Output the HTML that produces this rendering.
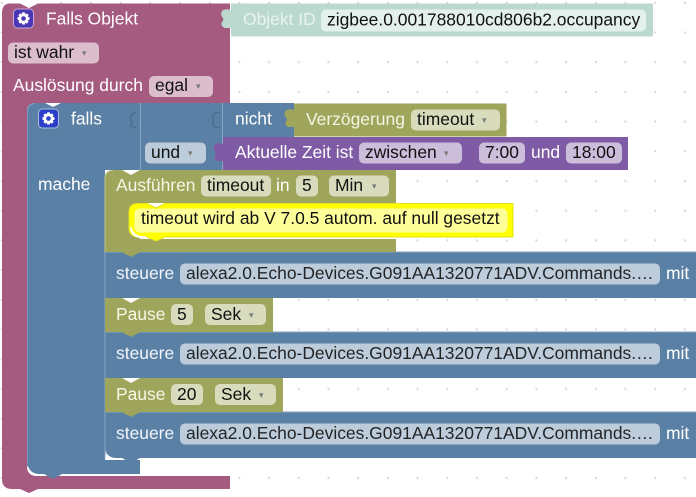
<!DOCTYPE html>
<html><head><meta charset="utf-8">
<style>
html,body{margin:0;padding:0;background:#fff;width:696px;height:497px;overflow:hidden}
svg{display:block}
text{font-family:"Liberation Sans",Arial,sans-serif;font-size:17.45px}
.w{fill:#fff}.k{fill:#111}text.a{font-size:9px;fill:#7a7a7a}
</style></head><body>
<svg width="696" height="497" viewBox="0 0 696 497" xmlns="http://www.w3.org/2000/svg">
<defs>
<pattern id="g" x="0.2" y="1.2" width="29.7" height="29.7" patternUnits="userSpaceOnUse"><rect x="0.5" y="0.5" width="2.2" height="2.2" rx="1" fill="#d6d6d6"/></pattern>
<g id="gear"><path d="M0-6.2 1.4-6 1.8-4.3 3.4-5.1 5.1-3.4 4.2-1.8 6-1.3V1.3L4.2 1.8 5.1 3.4 3.4 5.1 1.8 4.3 1.3 6H-1.3L-1.8 4.3-3.4 5.1-5.1 3.4-4.2 1.8-6 1.3V-1.3L-4.2-1.8-5.1-3.4-3.4-5.1-1.8-4.3-1.4-6Z" fill="#fff"/><circle r="2.3" fill="currentColor"/></g>
</defs>
<rect width="696" height="497" fill="#fff"/>
<rect width="696" height="497" fill="url(#g)"/>

<!-- pink outer block -->
<path d="M10 3.5H21L29 8 37 3.5H230V103H35Q27 103 27 111V466Q27 476 37 476H230V489H38L29 493 20 489H12Q2 489 2 479V13Q2 3.5 10 3.5Z" fill="#A55B80"/>
<path d="M20 3.5 29 8 38 3.5 35 0H23Z" fill="#fff"/>
<path d="M231 10Q225 8 222 11Q220 15 223 18Q224 20 222 22Q220 26 225 28L231 28Z" fill="#BCD9CF"/>

<!-- teal -->
<rect x="231" y="3.5" width="422" height="33" fill="#BCD9CF"/>
<rect x="321" y="9.5" width="325" height="22" rx="5" fill="#E3F0EC"/>

<!-- pink fields -->
<rect x="8" y="42.5" width="91" height="21" rx="5" fill="#DBBDCC"/>
<rect x="149" y="76" width="64" height="21" rx="5" fill="#DBBDCC"/>

<!-- blue outer -->
<path d="M35 103H45L53 107 61 103H294V137H223V170H105V460H140V474H62L53 479 44 474H37Q27 474 27 464V111Q27 103 35 103Z" fill="#5B80A5"/>
<path d="M27.5 464V111Q28 104 35 103.5" fill="none" stroke="#7f9dbb" stroke-width="1"/>
<path d="M140.5 103V170M222.5 103V170" stroke="#8aa6c2" stroke-width="1"/>
<path d="M137 112Q130 113 131 119 132 122 131 126L137 128M219 112Q212 113 213 119 214 122 213 126L219 128" fill="none" stroke="#4a6c8d" stroke-width="1.3"/>
<path d="M28 466Q30 473 38 474H44L46 476H36Q29 475 27 468Z" fill="#fff"/>
<rect x="145" y="142.5" width="61" height="21" rx="5" fill="#BDCCDB"/>

<!-- olive Verzögerung -->
<rect x="294" y="103.5" width="212.5" height="33" fill="#9FA55B"/>
<path d="M294 110Q288 108 285.500 111Q283.500 115 286 117.500Q287.500 119.500 286 121.500Q284 125 288 127L294 127Z" fill="#9FA55B"/>
<rect x="411" y="109.500" width="89" height="21" rx="5" fill="#D9DBBD"/>

<!-- purple -->
<rect x="223" y="137" width="405" height="33" fill="#805BA5"/>
<path d="M223 144Q217 142 214.500 145Q212.500 149 215 151.500Q216.500 153.500 215 155.500Q213 159 217 161L223 161Z" fill="#805BA5"/>
<rect x="359" y="142.500" width="103" height="21" rx="5" fill="#CCBDDB"/>
<rect x="479" y="142.500" width="46" height="21" rx="5" fill="#CCBDDB"/>
<rect x="566" y="142.500" width="56" height="21" rx="5" fill="#CCBDDB"/>

<!-- steuere blocks -->
<rect x="105" y="252" width="591" height="46" fill="#5B80A5"/>
<rect x="105" y="332" width="591" height="46" fill="#5B80A5"/>
<path d="M105 412H696V458H140L131 463 122 458H115Q105 458 105 448Z" fill="#5B80A5"/>
<path d="M105 448Q106 457 115 458H122L124 459.500H114Q107 458 105 450Z" fill="#fff"/>
<rect x="180" y="263.500" width="480" height="21" rx="5" fill="#BDCCDB"/>
<rect x="180" y="343.500" width="480" height="21" rx="5" fill="#BDCCDB"/>
<rect x="180" y="423.500" width="480" height="21" rx="5" fill="#BDCCDB"/>
<path d="M105 252V458M105 252H696M105 332H696M105 412H696" fill="none" stroke="#87a3bf" stroke-width="1"/>

<!-- Ausführen -->
<path d="M113 170H122L131 175 140 170H396V203H140V239H396V252H140L131 257 122 252H105V178Q105 170 113 170Z" fill="#9FA55B"/>
<path d="M105 252V178Q105 171 113 170.500" fill="none" stroke="#c0c48a" stroke-width="1"/>
<rect x="201" y="175.500" width="70" height="21" rx="5" fill="#D9DBBD"/>
<rect x="296" y="175.500" width="22" height="21" rx="5" fill="#D9DBBD"/>
<rect x="329" y="175.500" width="60" height="21" rx="5" fill="#D9DBBD"/>

<!-- comment -->
<path d="M129 212Q129 203.500 138 203.500H147L156 208 165 203.500H513V237H165L156 241 147 237H137Q129 236 129 228Z" fill="#FFFF00" stroke="#e2e21c" stroke-width="1"/>
<path d="M130 228Q131 237 140 238H147L145 236H140Q133 234 131 226Z" fill="#fff"/>
<rect x="134.500" y="208.500" width="373" height="24" rx="5" fill="#FFFF9A"/>
<path d="M147 204.500 156 209.500 165 204.500V208H147Z" fill="#FFFF00"/>
<path d="M147 232.500H165L156 236Z" fill="#FFFF00"/>

<!-- Pause 5 -->
<path d="M105 298H122L131 303 140 298H273V332H140L131 337 122 332H105Z" fill="#9FA55B"/>
<rect x="171" y="304" width="22" height="21" rx="5" fill="#D9DBBD"/>
<rect x="205" y="304" width="61" height="21" rx="5" fill="#D9DBBD"/>
<!-- Pause 20 -->
<path d="M105 378H122L131 383 140 378H283V412H140L131 417 122 412H105Z" fill="#9FA55B"/>
<rect x="171" y="384" width="32" height="21" rx="5" fill="#D9DBBD"/>
<rect x="215" y="384" width="61" height="21" rx="5" fill="#D9DBBD"/>

<!-- icons -->
<rect x="13.500" y="9" width="20" height="19" rx="4" fill="#4A35B5" stroke="#c9a8d8" stroke-width="1"/>
<use href="#gear" x="23.500" y="18.500" color="#4A35B5"/>
<rect x="38.500" y="109" width="20" height="19" rx="4" fill="#2B3FC8" stroke="#a9c0da" stroke-width="1"/>
<use href="#gear" x="48.500" y="118.500" color="#2B3FC8"/>

<!-- text -->
<text x="46" y="24.500" class="w">Falls Objekt</text>
<text x="243" y="25" fill="#e8f3ef">Objekt ID</text>
<text x="327" y="25.500" class="k">zigbee.0.001788010cd806b2.occupancy</text>
<text x="14" y="58" class="k">ist wahr</text><text x="82" y="56" class="a">▾</text>
<text x="13" y="91" class="w">Auslösung durch</text>
<text x="155" y="91" class="k">egal</text><text x="196" y="89" class="a">▾</text>
<text x="71" y="124.500" class="w">falls</text>
<text x="235" y="124.500" class="w">nicht</text>
<text x="306" y="125" fill="#f4f5e4">Verzögerung</text>
<text x="417" y="125" class="k">timeout</text><text x="482" y="123" class="a">▾</text>
<text x="151" y="158" class="k">und</text><text x="188" y="156" class="a">▾</text>
<text x="235" y="158" class="w">Aktuelle Zeit ist</text>
<text x="365" y="158" class="k">zwischen</text><text x="444" y="156" class="a">▾</text>
<text x="485" y="158" class="k">7:00</text>
<text x="531" y="158" class="w">und</text>
<text x="572" y="158" class="k">18:00</text>
<text x="38" y="190" class="w">mache</text>
<text x="116" y="191" fill="#f6f7e6">Ausführen</text>
<text x="207" y="191" class="k">timeout</text>
<text x="276" y="191" class="w">in</text>
<text x="302" y="191" class="k">5</text>
<text x="335" y="191" class="k">Min</text><text x="372" y="189" class="a">▾</text>
<text x="141" y="224" class="k">timeout wird ab V 7.0.5 autom. auf null gesetzt</text>
<text x="116" y="279" fill="#f0f5f9">steuere</text>
<text x="186" y="279" class="k" fill-opacity=".9">alexa2.0.Echo-Devices.G091AA1320771ADV.Commands.…</text>
<text x="666" y="279" class="w">mit</text>
<text x="116" y="320" fill="#f6f7e6">Pause</text>
<text x="177" y="320" class="k">5</text>
<text x="211" y="320" class="k">Sek</text><text x="249" y="318" class="a">▾</text>
<text x="116" y="359" fill="#f0f5f9">steuere</text>
<text x="186" y="359" class="k" fill-opacity=".9">alexa2.0.Echo-Devices.G091AA1320771ADV.Commands.…</text>
<text x="666" y="359" class="w">mit</text>
<text x="116" y="400" fill="#f6f7e6">Pause</text>
<text x="177" y="400" class="k">20</text>
<text x="221" y="400" class="k">Sek</text><text x="259" y="398" class="a">▾</text>
<text x="116" y="439" fill="#f0f5f9">steuere</text>
<text x="186" y="439" class="k" fill-opacity=".9">alexa2.0.Echo-Devices.G091AA1320771ADV.Commands.…</text>
<text x="666" y="439" class="w">mit</text>
</svg>
</body></html>
